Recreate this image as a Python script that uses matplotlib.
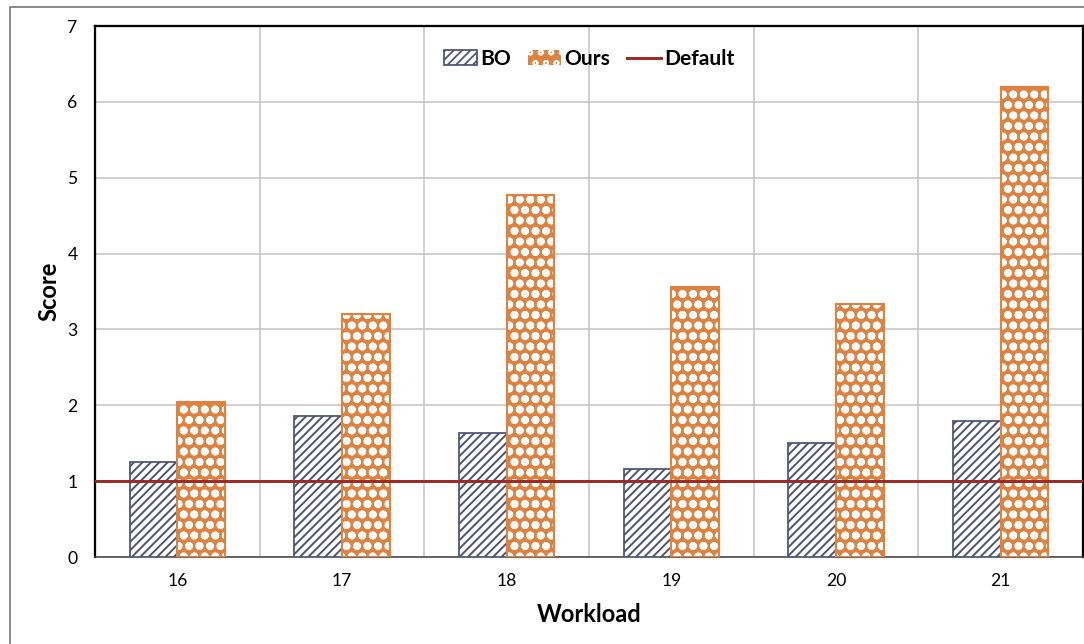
import numpy as np
import matplotlib
matplotlib.use('Agg')
import matplotlib.pyplot as plt
from matplotlib.patches import Patch, Rectangle
from matplotlib.lines import Line2D

workloads = ['16', '17', '18', '19', '20', '21']
bo_scores = [1.25, 1.86, 1.63, 1.16, 1.50, 1.79]
ours_scores = [2.04, 3.20, 4.77, 3.56, 3.33, 6.20]
default_score = 1.0

bo_color = '#4b5377'
ours_color = '#e0823f'
default_color = '#9e2b25'

plt.rcParams['font.family'] = ['Lato', 'DejaVu Sans']

DPI = 126
fig = plt.figure(figsize=(1084 / DPI, 644 / DPI), dpi=DPI)
fig.patch.set_facecolor('white')

# thin grey frame around the whole panel
fig.patches.append(Rectangle((10 / 1084, -0.2), 1.2, 1.2 - 7 / 644,
                             transform=fig.transFigure, fill=False,
                             edgecolor='#6e6e6e', linewidth=0.9, zorder=0))

ax = fig.add_axes([95 / 1084, 1 - 557 / 644, 988 / 1084, 531 / 644])

x = np.arange(len(workloads))
w = 0.29

bo_bars = ax.bar(x - w / 2, bo_scores, w, facecolor='white', edgecolor=bo_color,
                 hatch='/////', linewidth=1.0, zorder=3)
# white dots on orange: hatch drawn in white, outline added on top
ours_fill = ax.bar(x + w / 2, ours_scores, w, facecolor=ours_color, edgecolor='white',
                   hatch='oo', linewidth=0, zorder=3)
ours_edge = ax.bar(x + w / 2, ours_scores, w, fill=False, edgecolor=ours_color,
                   linewidth=1.2, zorder=4)

for p in bo_bars:
    p.set_hatch_linewidth(1.1)
for p in ours_fill:
    p.set_hatch_linewidth(2.1)

ax.axhline(default_score, color=default_color, linewidth=1.7, zorder=5)

ax.set_xlim(-0.5, len(workloads) - 0.5)
ax.set_ylim(0, 7)
ax.set_xticks(x)
ax.set_xticklabels(workloads)
ax.set_yticks(range(0, 8))
ax.set_xticks(x[:-1] + 0.5, minor=True)
ax.tick_params(axis='both', which='both', length=0, labelsize=10)
ax.tick_params(axis='y', pad=10)
ax.tick_params(axis='x', pad=9)

ax.grid(axis='y', which='major', color='#c4c4c4', linewidth=0.9, zorder=0)
ax.grid(axis='x', which='minor', color='#c4c4c4', linewidth=0.9, zorder=0)
ax.set_axisbelow(True)

for side in ['top', 'left', 'right']:
    ax.spines[side].set_color('black')
    ax.spines[side].set_linewidth(1.3)
ax.spines['bottom'].set_color('#444444')
ax.spines['bottom'].set_linewidth(0.9)

ax.set_xlabel('Workload', fontsize=13.5, fontweight='bold')
ax.set_ylabel('Score', fontsize=13.5, fontweight='bold')
ax.xaxis.set_label_coords(0.5, -0.087)
ax.yaxis.set_label_coords(-0.035, 0.5)

bo_handle = Patch(facecolor='white', edgecolor=bo_color, hatch='/////', linewidth=1.0)
ours_handle = Patch(facecolor=ours_color, edgecolor='white', hatch='oo', linewidth=0)
default_handle = Line2D([0], [0], color=default_color, linewidth=1.7)
leg = ax.legend([bo_handle, ours_handle, default_handle], ['BO', 'Ours', 'Default'],
                loc='upper center', bbox_to_anchor=(0.5, 0.992), ncol=3, frameon=False,
                prop={'weight': 'bold', 'size': 12}, handlelength=1.6,
                handletextpad=0.15, columnspacing=0.8)

fig.savefig('out.png', dpi=DPI)
